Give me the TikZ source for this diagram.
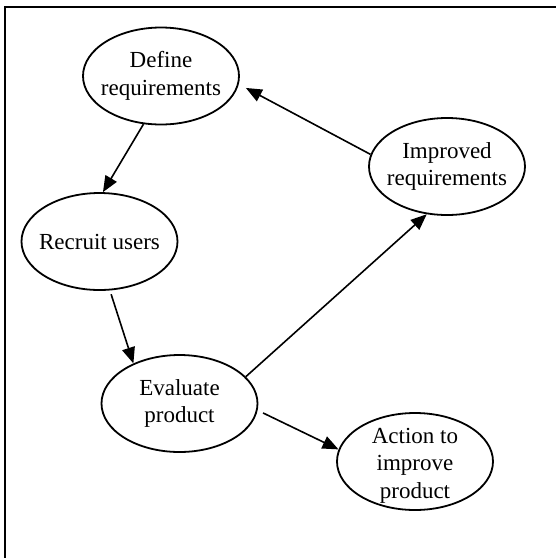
\documentclass[tikz,border=0pt]{standalone}
\usepackage{fontspec}
\setmainfont{Liberation Serif}
\usetikzlibrary{arrows.meta,shapes.geometric}

\begin{document}
\begin{tikzpicture}[x=1pt,y=-1pt,
    stage/.style={draw,ellipse,line width=1.8pt,minimum width=156pt,minimum height=97pt,
                  inner sep=-15pt,align=center,font=\fontsize{23}{27.5}\selectfont},
    flow/.style={line width=1.6pt,-{Triangle[length=16pt,width=13pt]}}]
  \useasboundingbox (0,0) rectangle (556,558);
  \coordinate (frameTL) at (5,7);
  \coordinate (frameBL) at (5,562);
  \coordinate (frameTR) at (560,7);
  \draw[line width=2.2pt] (frameBL) -- (frameTL) -- (frameTR);

  \node[stage] (define)   at (161,76)    {Define\\requirements};
  \node[stage] (improved) at (447,166.5) {Improved\\requirements};
  \node[stage] (recruit)  at (99.5,241.5) {Recruit users};
  \node[stage] (evaluate) at (179.5,403.5) {Evaluate\\product};
  \node[stage] (action)   at (415,461.5) {\\[-4pt]Action to\\improve\\product};

  \draw[flow] (define.250) -- (recruit.86);
  \draw[flow,shorten >=8pt] (improved.171) -- (define.354);
  \draw[flow,shorten <=4pt] (recruit.282) -- (evaluate.139);
  \draw[flow] (evaluate.22) -- (improved.247);
  \draw[flow,shorten <=6pt] (evaluate.355) -- (action.171);
\end{tikzpicture}
\end{document}
